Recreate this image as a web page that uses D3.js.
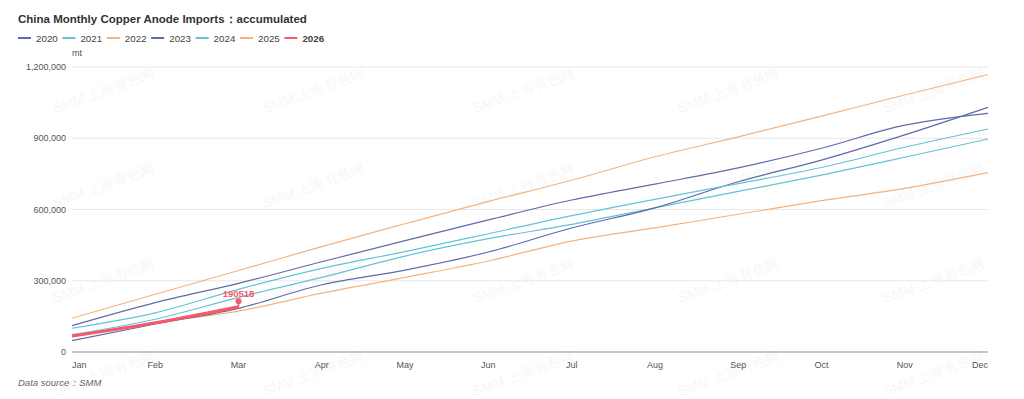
<html>
<head>
<meta charset="utf-8">
<script src="https://cdn.jsdelivr.net/npm/d3@7"></script>
<style>
  body { margin: 0; background: #fff; }
  text { font-family: "Liberation Sans", Arial, sans-serif; }
</style>
</head>
<body>
<svg width="1024" height="399"></svg>
<script>
// months on the x axis
var months = ['Jan','Feb','Mar','Apr','May','Jun','Jul','Aug','Sep','Oct','Nov','Dec']
var yTicks = [0, 300000, 600000, 900000, 1200000]

// accumulated imports, mt
var y2020 = [111000, 208000, 289000, 380000, 469000, 556000, 640000, 707000, 775000, 858000, 955000, 1005000]
var y2021 = [73000, 138000, 230000, 314000, 404000, 477000, 537000, 607000, 676000, 745000, 820000, 897000]
var y2022 = [65000, 124000, 172000, 248000, 314000, 383000, 467000, 523000, 580000, 637000, 689000, 755000]
var y2023 = [48000, 118000, 184000, 283000, 345000, 421000, 522000, 607000, 717000, 808000, 914000, 1030000]
var y2024 = [100000, 165000, 264000, 352000, 423000, 498000, 574000, 643000, 709000, 777000, 862000, 939000]
var y2025 = [142000, 243000, 343000, 444000, 540000, 634000, 723000, 822000, 906000, 993000, 1082000, 1168000]
var y2026 = [67000, 123000, 190518]

var years = ['2020','2021','2022','2023','2024','2025','2026']
var values = [y2020, y2021, y2022, y2023, y2024, y2025, y2026]
var colors = ['#5d6aab','#62c4d6','#f6b27c','#5d6aab','#62c4d6','#f6b27c','#f7596a']

var svg = d3.select('svg')

var x = d3.scalePoint().domain(months).range([72, 988])
var y = d3.scaleLinear().domain([0, 1200000]).range([352, 67])

// watermark
var wmX = [105, 315, 525, 730, 935]
var wmY = [95, 190, 285, 378]
wmY.forEach(function(wy){
    wmX.forEach(function(wx){
        svg.append('text')
            .attr('transform', 'translate(' + wx + ',' + wy + ') rotate(-20)')
            .attr('text-anchor','middle')
            .attr('font-size', 14)
            .attr('fill', '#000')
            .attr('opacity', 0.03)
            .text('SMM 上海有色网')
    })
})

// title
svg.append('text')
    .attr('x', 18).attr('y', 23)
    .attr('font-size', 11.5)
    .attr('font-weight', 'bold')
    .attr('fill', '#333')
    .text('China Monthly Copper Anode Imports：accumulated')

// legend
var legend = svg.selectAll('.leg')
    .data(years)
    .enter()
    .append('g')
    .attr('transform', function(d,i){ return 'translate(' + (18 + i*44.4) + ',38)' })
legend.append('line')
    .attr('x1', 0).attr('x2', 13)
    .attr('stroke', function(d,i){ return colors[i] })
    .attr('stroke-width', 2)
legend.append('text')
    .attr('x', 18).attr('y', 3.5)
    .attr('font-size', 9.8)
    .attr('fill', '#444')
    .attr('font-weight', function(d){ return d == '2026' ? 'bold' : 'normal' })
    .text(function(d){ return d })

// grid + y labels
svg.selectAll('.grid')
    .data(yTicks.slice(1))
    .enter()
    .append('line')
    .attr('x1', 72).attr('x2', 988)
    .attr('y1', function(d){ return y(d) })
    .attr('y2', function(d){ return y(d) })
    .attr('stroke', '#e8e8e8')
    .attr('stroke-width', 1)

svg.selectAll('.ylab')
    .data(yTicks)
    .enter()
    .append('text')
    .attr('x', 66)
    .attr('y', function(d){ return y(d) + 3 })
    .attr('text-anchor', 'end')
    .attr('font-size', 9)
    .attr('fill', '#555')
    .text(function(d){ return d3.format(',')(d) })

svg.append('text')
    .attr('x', 72).attr('y', 56)
    .attr('font-size', 9)
    .attr('fill', '#555')
    .text('mt')

// x axis
svg.append('line')
    .attr('x1', 72).attr('x2', 988)
    .attr('y1', 352).attr('y2', 352)
    .attr('stroke', '#8a8d99')
    .attr('stroke-width', 1)

svg.selectAll('.xlab')
    .data(months)
    .enter()
    .append('text')
    .attr('x', function(d){ return x(d) })
    .attr('y', 367.5)
    .attr('text-anchor', function(d,i){ return i == 0 ? 'start' : (i == 11 ? 'end' : 'middle') })
    .attr('font-size', 9)
    .attr('fill', '#555')
    .text(function(d){ return d })

// lines
var line = d3.line()
    .x(function(d,i){ return x(months[i]) })
    .y(function(d){ return y(d) })
    .curve(d3.curveMonotoneX)

svg.selectAll('.series')
    .data(values)
    .enter()
    .append('path')
    .attr('d', function(d){ return line(d) })
    .attr('fill', 'none')
    .attr('stroke', function(d,i){ return colors[i] })
    .attr('stroke-width', function(d,i){ return i == 6 ? 3 : 1.2 })

// last point label of 2026
var lastI = y2026.length - 1
var px = x(months[lastI]), py = y(y2026[lastI])
svg.append('line')
    .attr('x1', px).attr('x2', px)
    .attr('y1', py).attr('y2', py - 5)
    .attr('stroke', colors[6]).attr('stroke-width', 1.5)
svg.append('circle')
    .attr('cx', px).attr('cy', py - 5.5)
    .attr('r', 3)
    .attr('fill', colors[6])
svg.append('text')
    .attr('x', px).attr('y', py - 10)
    .attr('text-anchor', 'middle')
    .attr('font-size', 9.5)
    .attr('font-weight', 'bold')
    .attr('fill', colors[6])
    .text(y2026[lastI])

// source
svg.append('text')
    .attr('x', 18).attr('y', 386)
    .attr('font-size', 9.5)
    .attr('font-style', 'italic')
    .attr('fill', '#666')
    .text('Data source：SMM')
</script>
</body>
</html>
